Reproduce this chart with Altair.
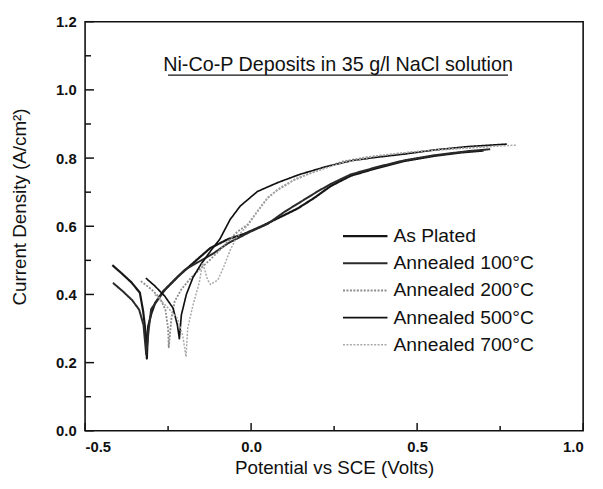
import altair as alt
import pandas as pd

# ---------------- data ----------------
series_names = ["As Plated", "Annealed 100°C", "Annealed 200°C", "Annealed 500°C", "Annealed 700°C"]

as_plated_v = [-0.418, -0.39, -0.36, -0.335, -0.325, -0.318, -0.314, -0.31, -0.30, -0.289, -0.265, -0.221,
               -0.17, -0.123, -0.07, -0.02, 0.04, 0.09, 0.14, 0.19, 0.24, 0.30, 0.38, 0.46, 0.55, 0.63, 0.70]
as_plated_i = [0.486, 0.462, 0.435, 0.405, 0.35, 0.29, 0.212, 0.307, 0.345, 0.375, 0.409, 0.452,
               0.496, 0.536, 0.562, 0.578, 0.604, 0.628, 0.652, 0.683, 0.718, 0.748, 0.771, 0.791, 0.806, 0.816, 0.822]

ann100_v = [-0.416, -0.385, -0.358, -0.337, -0.324, -0.316, -0.308, -0.301, -0.259, -0.2, -0.111, -0.07,
            0.0, 0.05, 0.10, 0.15, 0.20, 0.24, 0.30, 0.38, 0.46, 0.55, 0.65, 0.72]
ann100_i = [0.434, 0.408, 0.383, 0.355, 0.31, 0.225, 0.30, 0.357, 0.414, 0.472, 0.522, 0.55,
            0.585, 0.607, 0.642, 0.672, 0.702, 0.724, 0.752, 0.774, 0.793, 0.808, 0.82, 0.826]

ann200_v = [-0.332, -0.30, -0.275, -0.258, -0.25, -0.248, -0.24, -0.23, -0.21, -0.18, -0.15, -0.12, -0.09,
            -0.07, -0.04, -0.01, 0.02, 0.05, 0.08, 0.13, 0.18, 0.226, 0.276, 0.35, 0.45, 0.55, 0.65, 0.72]
ann200_i = [0.439, 0.415, 0.39, 0.355, 0.30, 0.245, 0.33, 0.38, 0.415, 0.45, 0.478, 0.505, 0.535,
            0.555, 0.585, 0.605, 0.645, 0.683, 0.707, 0.736, 0.756, 0.772, 0.79, 0.803, 0.814, 0.823, 0.83, 0.834]

ann500_v = [-0.317, -0.29, -0.26, -0.235, -0.222, -0.216, -0.21, -0.195, -0.175, -0.15, -0.12, -0.094,
            -0.063, -0.033, 0.019, 0.08, 0.146, 0.226, 0.306, 0.384, 0.464, 0.553, 0.656, 0.77]
ann500_i = [0.448, 0.425, 0.395, 0.36, 0.31, 0.27, 0.34, 0.40, 0.45, 0.49, 0.53, 0.5625,
            0.62, 0.659, 0.702, 0.728, 0.752, 0.775, 0.793, 0.803, 0.812, 0.824, 0.834, 0.841]

ann700_v = [-0.29, -0.25, -0.222, -0.206, -0.196, -0.191, -0.176, -0.156, -0.146, -0.131, -0.122, -0.10,
            -0.082, -0.063, -0.043, -0.01, 0.02, 0.05, 0.09, 0.14, 0.20, 0.28, 0.38, 0.48, 0.58, 0.68, 0.80]
ann700_i = [0.40, 0.36, 0.33, 0.28, 0.217, 0.30, 0.365, 0.435, 0.493, 0.443, 0.429, 0.443,
            0.482, 0.53, 0.569, 0.602, 0.645, 0.685, 0.715, 0.742, 0.764, 0.788, 0.806, 0.817, 0.826, 0.832, 0.838]

x_major = [-0.5, 0.0, 0.5, 1.0]
x_minor = [-0.25, 0.25, 0.75]
y_major = [0.0, 0.2, 0.4, 0.6, 0.8, 1.0, 1.2]
y_minor = [0.1, 0.3, 0.5, 0.7, 0.9, 1.1]

chart_title = "Ni-Co-P Deposits in 35 g/l NaCl solution"
x_title = "Potential vs SCE (Volts)"
y_title = "Current Density (A/cm²)"

# ---------------- styles ----------------
colors = ["#151515", "#2a2a2a", "#8c8c8c", "#101010", "#a9a9a9"]
dashes = [[1, 0], [1, 0], [2, 1.5], [1, 0], [2, 1.5]]
widths = [2.2, 1.5, 1.6, 2.6, 1.6]
FONT = "Liberation Sans"
W, H = 504, 414

rows = []
for name, vs, cs in zip(series_names,
                        [as_plated_v, ann100_v, ann200_v, ann500_v, ann700_v],
                        [as_plated_i, ann100_i, ann200_i, ann500_i, ann700_i]):
    for k, (v, c) in enumerate(zip(vs, cs)):
        rows.append({"series": name, "idx": k, "potential": v, "current": c})
df = pd.DataFrame(rows)
legend_df = pd.DataFrame({"series": series_names})

xscale = alt.Scale(domain=[-0.5, 1.0], nice=False, zero=False)
yscale = alt.Scale(domain=[0.0, 1.2], nice=False, zero=False)
color_enc = alt.Color("series:N", scale=alt.Scale(domain=series_names, range=colors), legend=None)
dash_enc = alt.StrokeDash("series:N", scale=alt.Scale(domain=series_names, range=dashes), legend=None)
width_enc = alt.StrokeWidth("series:N", scale=alt.Scale(domain=series_names, range=widths), legend=None)

xaxis = alt.Axis(values=x_major, ticks=False, domain=False, grid=False,
                 labelExpr="datum.value < 0 ? '-' + format(-datum.value, '.1f') : format(datum.value, '.1f')",
                 labelFontSize=15, labelFontWeight="bold", labelFont=FONT, labelColor="#111",
                 labelPadding=9, titleFont=FONT, titleFontSize=19, titleFontWeight="normal",
                 titleColor="#111", titleY=37, titleBaseline="middle")
yaxis = alt.Axis(values=y_major, ticks=False, domain=False, grid=False, format=".1f",
                 labelFontSize=15, labelFontWeight="bold", labelFont=FONT, labelColor="#111",
                 labelPadding=9, titleFont=FONT, titleFontSize=19, titleFontWeight="normal",
                 titleColor="#111", titleX=-66, titleY=187, titleAngle=270,
                 titleAlign="center", titleBaseline="middle")

lines = alt.Chart(df).mark_line(strokeJoin="round", strokeCap="butt").encode(
    x=alt.X("potential:Q", scale=xscale, axis=xaxis, title=x_title),
    y=alt.Y("current:Q", scale=yscale, axis=yaxis, title=y_title),
    color=color_enc, strokeDash=dash_enc, strokeWidth=width_enc,
    order="idx:Q",
)

# legend drawn inside the plot (rows placed by a point scale)
leg_y = alt.Y("series:N", scale=alt.Scale(type="point", domain=series_names, range=[217, 327], padding=0),
              axis=None)
leg_lines = alt.Chart(legend_df).mark_rule(strokeCap="butt").encode(
    y=leg_y, x=alt.value(261), x2=alt.value(306),
    color=color_enc, strokeDash=dash_enc, strokeWidth=width_enc)
leg_text = alt.Chart(legend_df).mark_text(
    font=FONT, fontSize=19.5, color="#111", align="left", baseline="middle").encode(
    y=leg_y, x=alt.value(312), text="series:N")

# inward ticks
xt_major = alt.Chart(pd.DataFrame({"v": x_major})).mark_rule(color="#111", strokeWidth=1.5).encode(
    x=alt.X("v:Q", scale=xscale), y=alt.value(H), y2=alt.value(H - 8))
xt_minor = alt.Chart(pd.DataFrame({"v": x_minor})).mark_rule(color="#111", strokeWidth=1.5).encode(
    x=alt.X("v:Q", scale=xscale), y=alt.value(H), y2=alt.value(H - 5))
yt_major = alt.Chart(pd.DataFrame({"v": y_major})).mark_rule(color="#111", strokeWidth=1.5).encode(
    y=alt.Y("v:Q", scale=yscale, axis=None), x=alt.value(0), x2=alt.value(9))
yt_minor = alt.Chart(pd.DataFrame({"v": y_minor})).mark_rule(color="#111", strokeWidth=1.5).encode(
    y=alt.Y("v:Q", scale=yscale, axis=None), x=alt.value(0), x2=alt.value(6))

title_txt = alt.Chart(pd.DataFrame({"t": [chart_title]})).mark_text(
    font=FONT, fontSize=20, color="#111", align="center", baseline="middle").encode(
    text="t:N", x=alt.value(256), y=alt.value(44))
underline = alt.Chart(pd.DataFrame({"t": [chart_title]})).mark_rule(color="#111", strokeWidth=1.3).encode(
    x=alt.value(84), x2=alt.value(428), y=alt.value(54))

chart = alt.layer(lines, xt_major, xt_minor, yt_major, yt_minor, leg_lines, leg_text,
                  title_txt, underline).resolve_scale(y="independent").properties(
    width=W, height=H,
    autosize=alt.AutoSizeParams(type="none"),
    padding={"left": 78, "top": 11, "right": 12, "bottom": 55},
    background="white",
).configure_view(stroke="#111", strokeWidth=1.6)

chart.save("out.html", embed_options={"renderer": "svg", "actions": False})
